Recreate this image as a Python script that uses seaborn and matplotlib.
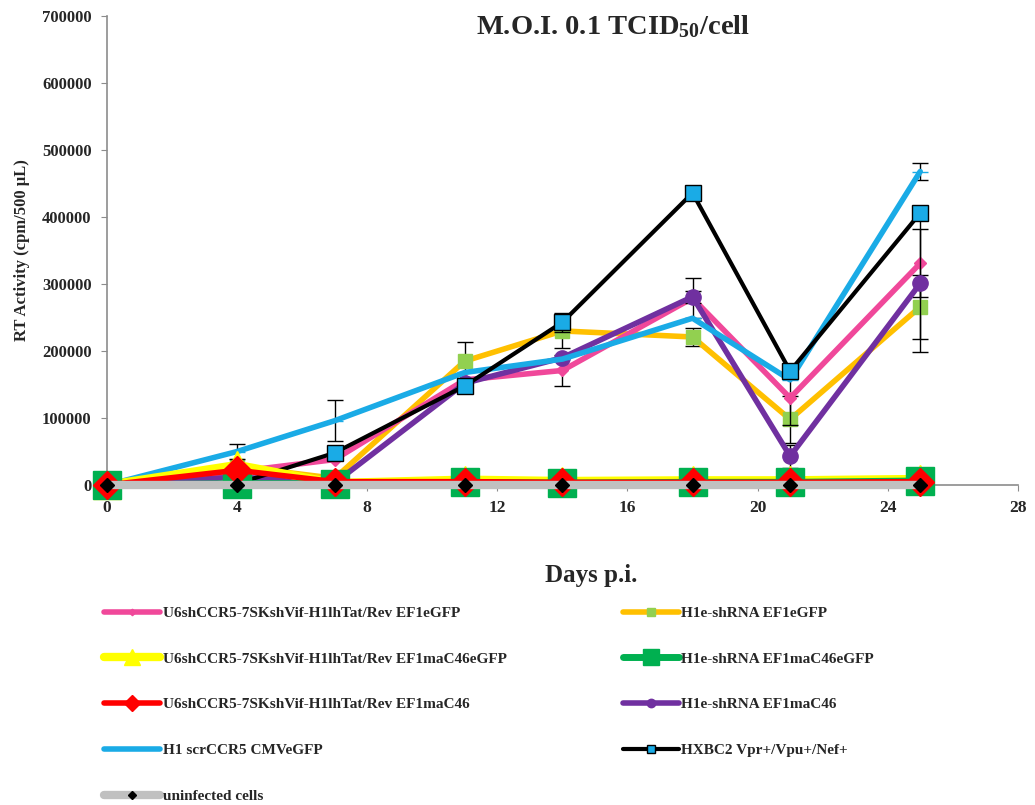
import matplotlib
matplotlib.use("Agg")
import matplotlib.pyplot as plt
import seaborn as sns
import numpy as np

# Sampling days (post infection)
days = [0, 4, 7, 11, 14, 18, 21, 25]

# RT activity (cpm / 500 uL) per construct
u6_ef1egfp = [0, 20000, 38000, 157000, 171000, 279000, 130000, 331000]
h1e_ef1egfp = [0, 28000, 10000, 185000, 230000, 221000, 98000, 266000]
u6_c46egfp = [0, 30000, 3000, 8000, 6000, 7000, 7000, 9000]
h1e_c46egfp = [0, 2000, 2000, 4000, 3000, 4000, 4000, 6000]
u6_c46 = [0, 22000, 5000, 5000, 4000, 4000, 4000, 5000]
h1e_c46 = [0, 12000, 3000, 152000, 190000, 281000, 43000, 301000]
h1_scr = [0, 50000, 96000, 168000, 188000, 249000, 157000, 468000]
hxbc2 = [0, 2000, 48000, 148000, 243000, 436000, 170000, 406000]
uninfected = [0, 0, 0, 0, 0, 0, 0, 0]

# Standard deviations (only where drawn)
err_u6_ef1egfp = [0, 0, 0, 0, 23000, 30000, 40000, 51000]
err_h1e_ef1egfp = [0, 0, 0, 28000, 25000, 14000, 35000, 48000]
err_h1e_c46 = [0, 0, 0, 0, 0, 9000, 17000, 102000]
err_h1_scr = [0, 11000, 31000, 0, 0, 0, 0, 13000]
err_hxbc2 = [0, 0, 0, 0, 14000, 0, 0, 0]

labels = [
    "U6shCCR5-7SKshVif-H1lhTat/Rev EF1eGFP",
    "U6shCCR5-7SKshVif-H1lhTat/Rev EF1maC46eGFP",
    "U6shCCR5-7SKshVif-H1lhTat/Rev EF1maC46",
    "H1 scrCCR5 CMVeGFP",
    "uninfected cells",
    "H1e-shRNA EF1eGFP",
    "H1e-shRNA EF1maC46eGFP",
    "H1e-shRNA EF1maC46",
    "HXBC2 Vpr+/Vpu+/Nef+",
]

sns.set_style("ticks")
plt.rcParams["font.family"] = ["Liberation Serif", "DejaVu Serif"]
plt.rcParams["font.weight"] = "bold"
plt.rcParams["mathtext.fontset"] = "custom"
plt.rcParams["mathtext.rm"] = "Liberation Serif:bold"
plt.rcParams["mathtext.bf"] = "Liberation Serif:bold"
plt.rcParams["mathtext.default"] = "rm"

fig = plt.figure(figsize=(10.35, 8.05), dpi=100)
ax = fig.add_axes([0.1034, 0.3975, 0.880, 0.5825])

series = {
    # label: (values, errors, line color, lw, marker, ms, face, edge, zorder)
    labels[5]: (h1e_ef1egfp, err_h1e_ef1egfp, "#FFC000", 4, "s", 10, "#92D050", "#92D050", 3),
    labels[0]: (u6_ef1egfp, err_u6_ef1egfp, "#F0489A", 4, "D", 6, "#F0489A", "#F0489A", 4),
    labels[7]: (h1e_c46, err_h1e_c46, "#7030A0", 4, "o", 11, "#7030A0", "#7030A0", 5),
    labels[3]: (h1_scr, err_h1_scr, "#1AABE6", 4, "_", 12, "#1AABE6", "#1AABE6", 6),
    labels[8]: (hxbc2, err_hxbc2, "#000000", 3, "s", 11, "#1AABE6", "#000000", 7),
    labels[1]: (u6_c46egfp, None, "#FFFF00", 6, "^", 20, "#FFFF00", "#FFFF00", 8),
    labels[6]: (h1e_c46egfp, None, "#00B050", 5, "s", 20, "#00B050", "#00B050", 9),
    labels[2]: (u6_c46, None, "#FF0000", 4, "D", 14, "#FF0000", "#FF0000", 10),
    labels[4]: (uninfected, None, "#C0C0C0", 6, "D", 7, "#000000", "#000000", 11),
}

handles = {}
for lab, (vals, errs, col, lw, mk, ms, fc, ec, z) in series.items():
    if errs is not None:
        e = np.array(errs, dtype=float)
        mask = e > 0
        ax.errorbar(np.array(days)[mask], np.array(vals)[mask], yerr=e[mask],
                    fmt="none", ecolor="black", elinewidth=1, capsize=6,
                    capthick=1, zorder=z - 0.5)
    sns.lineplot(x=days, y=vals, ax=ax, color=col, lw=lw, marker=mk,
                 markersize=ms, markerfacecolor=fc, markeredgecolor=ec,
                 markeredgewidth=1, label=lab, zorder=z, legend=False,
                 clip_on=False)
    handles[lab] = ax.lines[-1]

ax.set_xlim(0, 28)
ax.set_ylim(0, 700000)
ax.set_xticks(range(0, 29, 4))
ax.set_yticks(range(0, 700001, 100000))
ax.set_yticklabels([str(v) for v in range(0, 700001, 100000)])
ax.spines["top"].set_visible(False)
ax.spines["right"].set_visible(False)
for s in ("left", "bottom"):
    ax.spines[s].set_color("#8C8C8C")
    ax.spines[s].set_linewidth(1.2)
ax.tick_params(axis="both", length=4, color="#8C8C8C", labelsize=12)
for t in ax.get_xticklabels() + ax.get_yticklabels():
    t.set_fontweight("bold")
ax.tick_params(axis="x", pad=7, labelsize=12.5)
ax.tick_params(axis="y", pad=7)

ax.set_ylabel("RT Activity (cpm/500 µL)", fontsize=12, fontweight="bold", labelpad=9)
ax.set_xlabel("")
fig.text(0.571, 0.285, "Days p.i.", ha="center", va="center",
         fontsize=18, fontweight="bold")
ax.text(0.556, 1.007, r"M.O.I. 0.1 TCID$_{50}$/cell", transform=ax.transAxes,
        ha="center", va="top", fontsize=20.5, fontweight="bold")

leg = fig.legend([handles[l] for l in labels], labels, loc="upper left",
                 bbox_to_anchor=(0.087, 0.264), ncol=2, frameon=False,
                 prop={"family": "Liberation Serif", "weight": "bold", "size": 11},
                 handlelength=3.7, handletextpad=0.15, labelspacing=2.1,
                 columnspacing=7.6, markerscale=0.55)

fig.savefig("out.png", dpi=100)
